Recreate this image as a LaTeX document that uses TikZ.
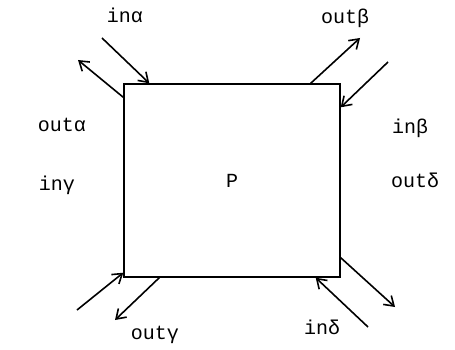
\documentclass[tikz,border=0pt]{standalone}
\usepackage{fontspec}
\setmonofont{Liberation Mono}
\usetikzlibrary{arrows.meta}

\begin{document}
\begin{tikzpicture}[x=1pt,y=-1pt,font=\ttfamily\fontsize{20}{24}\selectfont,
        >={Straight Barb[length=9pt,width=12pt,line width=1.6pt]},
        flow/.style={->,line width=1.6pt}]
        \useasboundingbox (0,0) rectangle (455,350);

        % Draw the process box
        \node[draw, line width=1.4pt, minimum width=216pt, minimum height=193pt, inner sep=0pt] (P) at (232,180.5) {P};

        % Free ends of the arrows
        \coordinate (ina) at (102,38);
        \coordinate (outa) at (78,60);
        \coordinate (outb) at (360,38);
        \coordinate (inb) at (388,62);
        \coordinate (ing) at (77,310);
        \coordinate (outg) at (115,320);
        \coordinate (outd) at (395,307);
        \coordinate (ind) at (368,327);

        % Draw the in and out arrows
        \draw[flow] (ina) -- ([xshift=26pt]P.north west);
        \draw[flow] ([yshift=-14pt]P.north west) -- (outa);
        \draw[flow] ([xshift=-30pt]P.north east) -- (outb);
        \draw[flow] (inb) -- ([yshift=-24pt]P.north east);
        \draw[flow] (ing) -- ([yshift=5pt]P.south west);
        \draw[flow] ([xshift=36pt]P.south west) -- (outg);
        \draw[flow] ([yshift=20pt]P.south east) -- (outd);
        \draw[flow] (ind) -- ([xshift=-25pt]P.south east);

        % Labels
        \node (la) at (125,15) {inα};
        \node (lb) at (345,18) {outβ};
        \node (loa) at (62,125) {outα};
        \node (lib) at (410,128) {inβ};
        \node (lig) at (57,185) {inγ};
        \node (lod) at (415,180) {outδ};
        \node (log) at (155,335) {outγ};
        \node (lid) at (322,327) {inδ};

    \end{tikzpicture}
\end{document}
